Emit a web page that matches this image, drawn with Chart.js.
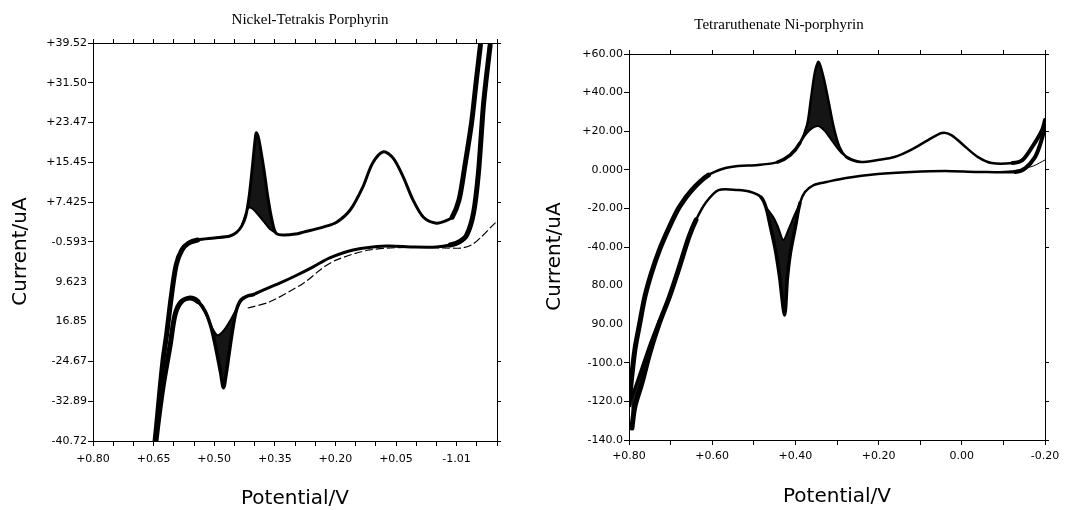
<!DOCTYPE html>
<html>
<head>
<meta charset="utf-8">
<title>Porphyrin voltammograms</title>
<script src="https://cdn.jsdelivr.net/npm/chart.js@4.4.1/dist/chart.umd.min.js"></script>
<style>
  html, body { margin: 0; padding: 0; background: #fff; }
  body { position: relative; width: 1071px; height: 510px; overflow: hidden; }
  canvas { position: absolute; top: 0; }
  #leftChart { left: 0; }
  #rightChart { left: 487px; }
</style>
</head>
<body>
<canvas id="leftChart" width="620" height="510"></canvas>
<canvas id="rightChart" width="584" height="510"></canvas>
<script>
// Nickel-Tetrakis Porphyrin (potential V, current uA)
var leftUpperV = [0.647, 0.640, 0.633, 0.626, 0.618, 0.606, 0.594, 0.580, 0.563, 0.541, 0.500, 0.461, 0.444, 0.432, 0.422, 0.413, 0.405, 0.400, 0.396, 0.391, 0.384, 0.376, 0.367, 0.357, 0.347, 0.328, 0.299, 0.279, 0.231, 0.197, 0.163, 0.132, 0.108, 0.081, 0.057, 0.032, 0.008, -0.018, -0.050, -0.077, -0.089, -0.106, -0.120, -0.137, -0.149, -0.159];
var leftUpperI = [-41.3, -35.5, -29.4, -24.0, -19.4, -11.5, -5.2, -2.2, -0.8, -0.2, 0.2, 0.6, 1.4, 2.6, 4.6, 8.9, 14.9, 19.0, 21.4, 20.6, 17.6, 13.5, 8.3, 3.8, 1.2, 0.8, 1.0, 1.4, 2.4, 3.4, 5.9, 10.5, 15.3, 17.6, 16.3, 12.5, 7.9, 4.4, 3.2, 3.8, 4.4, 7.9, 14.5, 23.4, 32.1, 39.1];
var leftPeakLowV = [0.432, 0.422, 0.415, 0.405, 0.391, 0.376, 0.362, 0.347];
var leftPeakLowI = [2.6, 5.0, 6.3, 6.1, 4.9, 3.4, 2.0, 1.2];
var leftLowerV = [-0.183, -0.173, -0.166, -0.154, -0.142, -0.125, -0.106, -0.084, -0.050, 0.008, 0.074, 0.156, 0.214, 0.255, 0.296, 0.338, 0.379, 0.403, 0.418, 0.434, 0.446, 0.455, 0.463, 0.470, 0.477, 0.484, 0.494, 0.507, 0.522, 0.540, 0.560, 0.582, 0.597, 0.609, 0.626, 0.638, 0.645];
var leftLowerI = [39.1, 32.1, 26.6, 13.3, 5.3, 0.8, -0.6, -1.2, -1.6, -1.6, -1.4, -2.2, -3.8, -5.6, -7.3, -8.9, -10.3, -11.2, -11.5, -12.3, -14.6, -18.6, -23.0, -27.0, -30.0, -27.0, -22.8, -18.0, -14.6, -12.6, -11.9, -12.7, -15.3, -21.4, -29.4, -36.5, -41.3];
var leftValleyLowV = [0.418, 0.434, 0.448, 0.463, 0.478, 0.492, 0.507, 0.522, 0.540];
var leftValleyLowI = [-11.5, -12.6, -14.6, -16.8, -18.6, -19.4, -17.6, -14.9, -12.6];
var leftFirstV = [0.417, 0.364, 0.279, 0.231, 0.197, 0.115, -0.009, -0.067, -0.113, -0.137, -0.161, -0.185, -0.205];
var leftFirstI = [-13.9, -12.7, -8.9, -5.8, -4.2, -2.2, -1.6, -1.8, -1.8, -1.2, 0.4, 2.4, 4.0];

var leftYTicks = [39.52, 31.50, 23.47, 15.45, 7.425, -0.599, -8.623, -16.65, -24.67, -32.70, -40.72];
var leftYLabels = ['+39.52', '+31.50', '+23.47', '+15.45', '+7.425', '-0.593', '9.623', '16.85', '-24.67', '-32.89', '-40.72'];
var leftXLabelVals = [0.80, 0.65, 0.50, 0.35, 0.20, 0.05, -0.10];
var leftXLabels = ['+0.80', '+0.65', '+0.50', '+0.35', '+0.20', '+0.05', '-1.01'];

// Tetraruthenate Ni-porphyrin
var rightUpperV = [0.800, 0.795, 0.786, 0.774, 0.762, 0.746, 0.727, 0.703, 0.679, 0.649, 0.609, 0.568, 0.538, 0.490, 0.443, 0.412, 0.389, 0.372, 0.363, 0.353, 0.344, 0.332, 0.320, 0.308, 0.294, 0.278, 0.259, 0.242, 0.202, 0.162, 0.122, 0.081, 0.048, 0.025, -0.009, -0.039, -0.072, -0.122, -0.146, -0.169, -0.193, -0.200];
var rightUpperI = [-121.9, -110.5, -93.4, -79.4, -65.9, -53.5, -41.6, -29.6, -19.3, -10.5, -2.7, 0.9, 2.0, 2.5, 4.0, 7.7, 13.9, 23.2, 36.2, 50.7, 55.9, 47.6, 35.1, 22.2, 11.8, 6.6, 4.6, 4.0, 5.1, 6.6, 10.3, 15.4, 19.1, 18.0, 11.8, 6.6, 3.5, 3.5, 5.1, 11.8, 20.6, 25.8];
var rightPeakLowV = [0.389, 0.374, 0.359, 0.345, 0.329, 0.310, 0.289, 0.266, 0.242];
var rightPeakLowI = [13.9, 18.6, 21.7, 22.7, 20.1, 14.4, 8.7, 5.6, 4.0];
var rightLowerV = [-0.200, -0.188, -0.176, -0.153, -0.129, -0.039, 0.041, 0.122, 0.202, 0.278, 0.325, 0.356, 0.377, 0.389, 0.400, 0.412, 0.419, 0.426, 0.438, 0.448, 0.460, 0.471, 0.483, 0.507, 0.538, 0.585, 0.616, 0.639, 0.656, 0.679, 0.703, 0.727, 0.750, 0.769, 0.786, 0.793];
var rightLowerI = [21.7, 12.9, 6.6, 0.9, -1.1, -1.1, -0.6, -1.1, -2.2, -4.2, -6.3, -7.9, -11.5, -17.2, -29.6, -43.1, -55.5, -75.2, -55.5, -41.6, -29.6, -19.3, -14.1, -11.5, -10.5, -10.5, -17.2, -26.0, -34.8, -50.4, -65.9, -79.4, -94.9, -110.5, -122.9, -133.8];
var rightValleyLowV = [0.389, 0.403, 0.415, 0.429, 0.441, 0.452, 0.471];
var rightValleyLowI = [-17.2, -23.9, -30.1, -36.4, -30.1, -25.0, -19.3];
var rightTailV = [0.727, 0.750, 0.769, 0.783, 0.795];
var rightTailI = [-77.8, -90.8, -102.7, -111.5, -118.2];
var rightFirstV = [-0.077, -0.136, -0.172, -0.200];
var rightFirstI = [-1.1, -0.1, 2.0, 5.1];

var rightYTicks = [60, 40, 20, 0, -20, -40, -60, -80, -100, -120, -140];
var rightYLabels = ['+60.00', '+40.00', '+20.00', '0.000', '-20.00', '-40.00', '80.00', '90.00', '-100.0', '-120.0', '-140.0'];
var rightXLabelVals = [0.8, 0.6, 0.4, 0.2, 0.0, -0.2];
var rightXLabels = ['+0.80', '+0.60', '+0.40', '+0.20', '0.00', '-0.20'];

function pts(xs, ys) {
    return xs.map((x, i) => ({ x: x, y: ys[i] }));
}

function stepTicks(from, to, step) {
    var out = [];
    var n = Math.round((to - from) / step);
    for (var k = 0; k <= n; k++) out.push(+(from + k * step).toFixed(3));
    return out;
}

function curve(data, opts) {
    return Object.assign({
        data: data,
        borderColor: '#000',
        backgroundColor: '#151515',
        borderWidth: 3,
        pointRadius: 0,
        pointHitRadius: 0,
        tension: 0.3,
        fill: false,
        borderJoinStyle: 'round',
        borderCapStyle: 'round'
    }, opts || {});
}

// the swept ends of the loops are several cycles wide
var leftThick = ctx => {
    var a = ctx.p0.parsed.x, b = ctx.p1.parsed.x;
    if (Math.max(a, b) > 0.55) return 5;
    if (Math.min(a, b) < -0.1) return 5;
    if (ctx.datasetIndex === 2 && Math.min(a, b) > 0.4) return 3.5;
    return undefined;
};
var rightThick = ctx => {
    var a = ctx.p0.parsed.x, b = ctx.p1.parsed.x;
    if (Math.max(a, b) > 0.64) return 5;
    if (Math.min(a, b) < -0.14) return 4;
    if (Math.min(a, b) > 0.38 && Math.max(a, b) < 0.49) return 3.5;
    return undefined;
};

function buildChart(id, c) {
    var tickFont = { family: 'DejaVu Sans', size: 11 };
    var axisTitleFont = { family: 'DejaVu Sans', size: 20, lineHeight: 1 };
    var setTicks = vals => s => { s.ticks = vals.map(v => ({ value: v })); };
    var rowTick = ctx => c.bareRows.indexOf(ctx.index) >= 0 ? 'rgba(0,0,0,0)' : '#000';
    var xLabel = v => {
        var i = c.xLabelVals.findIndex(t => Math.abs(t - v) < 1e-6);
        return i < 0 ? '' : c.xLabels[i];
    };
    var xCommon = {
        type: 'linear', reverse: true, min: -0.2, max: 0.8,
        afterBuildTicks: setTicks(c.xTicks),
        border: { color: '#000', width: 1 }
    };
    var yCommon = {
        type: 'linear', min: c.yMin, max: c.yMax,
        afterBuildTicks: setTicks(c.yTicks),
        border: { color: '#000', width: 1 }
    };

    return new Chart(document.getElementById(id), {
        type: 'line',
        data: { datasets: c.datasets },
        options: {
            responsive: false,
            animation: false,
            devicePixelRatio: 1,
            layout: { padding: 0 },
            plugins: {
                legend: { display: false },
                tooltip: { enabled: false },
                title: {
                    display: true,
                    text: c.title,
                    color: '#000',
                    font: { family: 'Liberation Serif', size: 15, weight: 'normal', lineHeight: 1.2 },
                    padding: { top: c.titleTop, bottom: 4 }
                }
            },
            scales: {
                x: Object.assign({}, xCommon, {
                    position: 'bottom',
                    afterFit: s => { s.height = c.bottomH; },
                    ticks: { autoSkip: false, maxRotation: 0, minRotation: 0, padding: c.xLabelPad, color: '#000', font: tickFont, callback: xLabel },
                    grid: { drawOnChartArea: false, tickLength: 5, color: '#000' },
                    title: { display: true, text: 'Potential/V', color: '#000', font: axisTitleFont, padding: { top: 0, bottom: c.xTitlePad } }
                }),
                x2: Object.assign({}, xCommon, {
                    position: 'top',
                    afterFit: s => { s.height = c.topH; },
                    ticks: { display: false },
                    grid: { drawOnChartArea: false, tickLength: 4, color: '#000' }
                }),
                y: Object.assign({}, yCommon, {
                    position: 'left',
                    afterFit: s => { s.width = c.leftW; },
                    ticks: { autoSkip: false, padding: 1, color: '#000', font: tickFont, callback: (v, i) => c.yLabels[i] },
                    grid: { drawOnChartArea: false, tickLength: 5, color: '#000', tickColor: rowTick },
                    title: { display: true, text: 'Current/uA   ', color: '#000', font: axisTitleFont, padding: { top: c.yTitlePad, bottom: 0 } }
                }),
                y2: Object.assign({}, yCommon, {
                    position: 'right',
                    afterFit: s => { s.width = c.rightW; },
                    ticks: { display: false },
                    grid: { drawOnChartArea: false, tickLength: 4, color: '#000', tickColor: rowTick }
                })
            }
        }
    });
}

buildChart('leftChart', {
    title: 'Nickel-Tetrakis Porphyrin',
    titleTop: 11, topH: 10, bottomH: 69, leftW: 93, rightW: 123,
    xLabelPad: 7, xTitlePad: 1, yTitlePad: 11,
    xTicks: stepTicks(-0.2, 0.8, 0.05), xLabelVals: leftXLabelVals, xLabels: leftXLabels,
    yMin: -40.72, yMax: 39.52, yTicks: leftYTicks, yLabels: leftYLabels, bareRows: [6, 7],
    datasets: [
        curve(pts(leftUpperV, leftUpperI), { segment: { borderWidth: leftThick } }),
        curve(pts(leftPeakLowV, leftPeakLowI), { borderWidth: 2, fill: 0 }),
        curve(pts(leftLowerV, leftLowerI), { segment: { borderWidth: leftThick } }),
        curve(pts(leftValleyLowV, leftValleyLowI), { borderWidth: 2, fill: 2 }),
        curve(pts(leftFirstV, leftFirstI), { borderWidth: 1.2, borderDash: [8, 3], borderCapStyle: 'butt' })
    ]
});

buildChart('rightChart', {
    title: 'Tetraruthenate Ni-porphyrin',
    titleTop: 16, topH: 16, bottomH: 70, leftW: 142, rightW: 26,
    xLabelPad: 5, xTitlePad: 3, yTitlePad: 58,
    xTicks: stepTicks(-0.2, 0.8, 0.1), xLabelVals: rightXLabelVals, xLabels: rightXLabels,
    yMin: -140, yMax: 60, yTicks: rightYTicks, yLabels: rightYLabels, bareRows: [6, 7],
    datasets: [
        curve(pts(rightUpperV, rightUpperI), { borderWidth: 2.5, segment: { borderWidth: rightThick } }),
        curve(pts(rightPeakLowV, rightPeakLowI), { borderWidth: 2, fill: 0 }),
        curve(pts(rightLowerV, rightLowerI), { borderWidth: 2.5, segment: { borderWidth: rightThick } }),
        curve(pts(rightValleyLowV, rightValleyLowI), { borderWidth: 2, fill: 2 }),
        curve(pts(rightTailV, rightTailI), { borderWidth: 3, fill: 2 }),
        curve(pts(rightFirstV, rightFirstI), { borderWidth: 1 })
    ]
});
</script>
</body>
</html>
